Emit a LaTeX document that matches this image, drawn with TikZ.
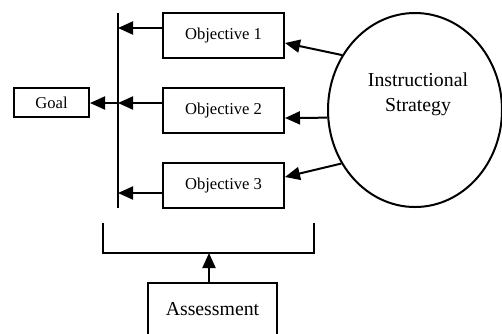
\documentclass[tikz,border=0pt]{standalone}
\usepackage{fontspec}
\setmainfont{Liberation Serif}
\usetikzlibrary{arrows.meta,calc,shapes.geometric}
\begin{document}
\begin{tikzpicture}[x=1pt,y=-1pt,line width=2pt,
  box/.style={draw,rectangle,inner sep=0pt,font=\fontsize{16.6}{20}\selectfont},
  bigbox/.style={draw,rectangle,inner sep=0pt,font=\fontsize{19.8}{24}\selectfont},
  arr/.style={-{Triangle[length=15pt,width=13pt]}}]
\useasboundingbox (0,0) rectangle (502,333);
\node[box,minimum width=121pt,minimum height=45pt] (obj1) at (223.5,35.5) {Objective 1};
\node[box,minimum width=121pt,minimum height=45pt] (obj2) at (223.5,110.5) {Objective 2};
\node[box,minimum width=121pt,minimum height=45pt] (obj3) at (223.5,185.5) {Objective 3};
\node[box,minimum width=75pt,minimum height=29pt] (goal) at (51.5,102.5) {Goal};
\node[draw,ellipse,inner sep=0pt,minimum width=174pt,minimum height=194pt] (strat) at (415,110) {};
\node[font=\fontsize{19.8}{25}\selectfont,align=center] (strattext) at (418,94) {Instructional\\Strategy};
\node[bigbox,minimum width=129pt,minimum height=52pt] (assess) at (212.5,309) {Assessment};
% vertical line
\coordinate (vtop) at (118,13);
\coordinate (vbot) at (118,208);
\draw (vtop) -- (vbot);
\coordinate (l1) at (118,28);
\coordinate (l2) at (118,103);
\coordinate (l3) at (118,193);
\draw[arr] (obj1.west |- l1) -- (l1);
\draw[arr] (obj2.west |- l2) -- (l2);
\draw[arr] (obj3.west |- l3) -- (l3);
\draw[arr] (l2) -- (goal.east |- l2);
% strategy arrows
\draw[arr] (strat.143.6) -- ($(obj1.east)+(0,7.5)$);
\draw[arr] (strat.185) -- ($(obj2.east)+(0,7.5)$);
\draw[arr] (strat.216.4) -- ($(obj3.east)+(0,-8.5)$);
% bracket
\coordinate (bl) at (103,223);
\coordinate (br) at (314,223);
\coordinate (bmid) at (209,253);
\draw (bl) -- (bl |- bmid) -- (br |- bmid) -- (br);
\draw[arr] (assess.north -| bmid) -- (bmid);
\end{tikzpicture}
\end{document}
